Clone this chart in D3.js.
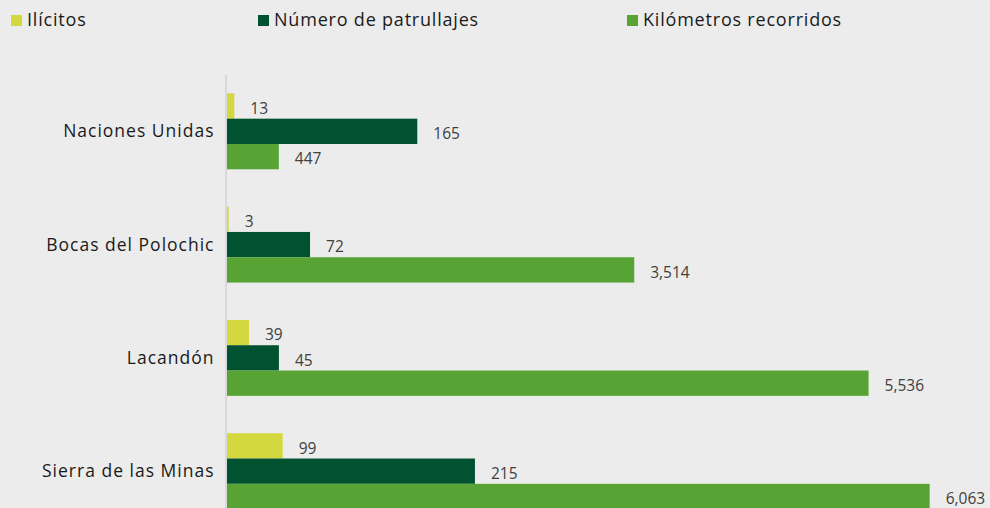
<!DOCTYPE html>
<html>
<head>
<meta charset="utf-8">
<script src="https://cdn.jsdelivr.net/npm/d3@7"></script>
<style>
  html, body { margin: 0; padding: 0; background: #ececec; }
  svg { display: block; }
</style>
</head>
<body>
<div id="chart"></div>
<script>
(function () {
    // 数据
    const categories = ["Naciones Unidas", "Bocas del Polochic", "Lacandón", "Sierra de las Minas"];
    const seriesNames = ["Ilícitos", "Número de patrullajes", "Kilómetros recorridos"];
    const ilicitos = [13, 3, 39, 99];
    const patrullajes = [165, 72, 45, 215];
    const kilometros = [447, 3514, 5536, 6063];
    // 每个系列各自的轴最大值（原图三组条形比例不同）
    const axisMax = [1244, 607, 6040];

    const seriesValues = [ilicitos, patrullajes, kilometros];
    const colors = ["#d4d83f", "#015230", "#57a434"];

    const W = 990, H = 508;
    const x0 = 227, plotW = 700;

    const svg = d3.select("#chart").append("svg")
        .attr("width", W)
        .attr("height", H);

    svg.append("rect").attr("width", W).attr("height", H).attr("fill", "#ececec");

    // 比例尺
    const y = d3.scaleBand()
        .domain(categories)
        .range([56, 546.5])
        .padding(0.33);

    const ySub = d3.scaleBand()
        .domain(seriesNames)
        .range([0, y.bandwidth()]);

    const xScales = axisMax.map(m => d3.scaleLinear().domain([0, m]).range([x0, x0 + plotW]));

    // 纵轴线
    svg.append("line")
        .attr("x1", x0 - 1).attr("x2", x0 - 1)
        .attr("y1", 75).attr("y2", H)
        .attr("stroke", "#d9d9d9")
        .attr("stroke-width", 2);

    // 条形
    const rows = [];
    categories.forEach((c, i) => {
        seriesNames.forEach((s, j) => {
            rows.push({ cat: c, series: s, si: j, value: seriesValues[j][i] });
        });
    });

    const g = svg.append("g");

    g.selectAll("rect.bar")
        .data(rows)
        .enter()
        .append("rect")
        .attr("class", "bar")
        .attr("x", x0)
        .attr("y", d => y(d.cat) + ySub(d.series))
        .attr("width", d => xScales[d.si](d.value) - x0)
        .attr("height", ySub.bandwidth())
        .attr("fill", d => colors[d.si]);

    g.selectAll("text.val")
        .data(rows)
        .enter()
        .append("text")
        .attr("class", "val")
        .attr("x", d => xScales[d.si](d.value) + 16)
        .attr("y", d => y(d.cat) + ySub(d.series) + ySub.bandwidth() / 2 + 3.5)
        .attr("dominant-baseline", "middle")
        .attr("font-family", "'Open Sans', sans-serif")
        .attr("font-size", 15.5)
        .attr("fill", "#404040")
        .text(d => d3.format(",")(d.value));

    // 类别标签
    svg.selectAll("text.cat")
        .data(categories)
        .enter()
        .append("text")
        .attr("class", "cat")
        .attr("x", 214.5)
        .attr("y", d => y(d) + y.bandwidth() / 2)
        .attr("dy", "0.35em")
        .attr("text-anchor", "end")
        .attr("font-family", "'Open Sans', sans-serif")
        .attr("font-size", 17.5)
        .attr("letter-spacing", "1px")
        .attr("fill", "#1a1a1a")
        .text(d => d);

    // 图例
    const legendX = [11, 258, 627];
    const legend = svg.selectAll("g.legend")
        .data(seriesNames)
        .enter()
        .append("g")
        .attr("class", "legend")
        .attr("transform", (d, i) => `translate(${legendX[i]}, 0)`);

    legend.append("rect")
        .attr("x", 0).attr("y", 15)
        .attr("width", 11).attr("height", 11)
        .attr("fill", (d, i) => colors[i]);

    legend.append("text")
        .attr("x", 16)
        .attr("y", 26)
        .attr("font-family", "'Open Sans', sans-serif")
        .attr("font-size", 18)
        .attr("letter-spacing", "0.8px")
        .attr("fill", "#1a1a1a")
        .text(d => d);
})();
</script>
</body>
</html>
